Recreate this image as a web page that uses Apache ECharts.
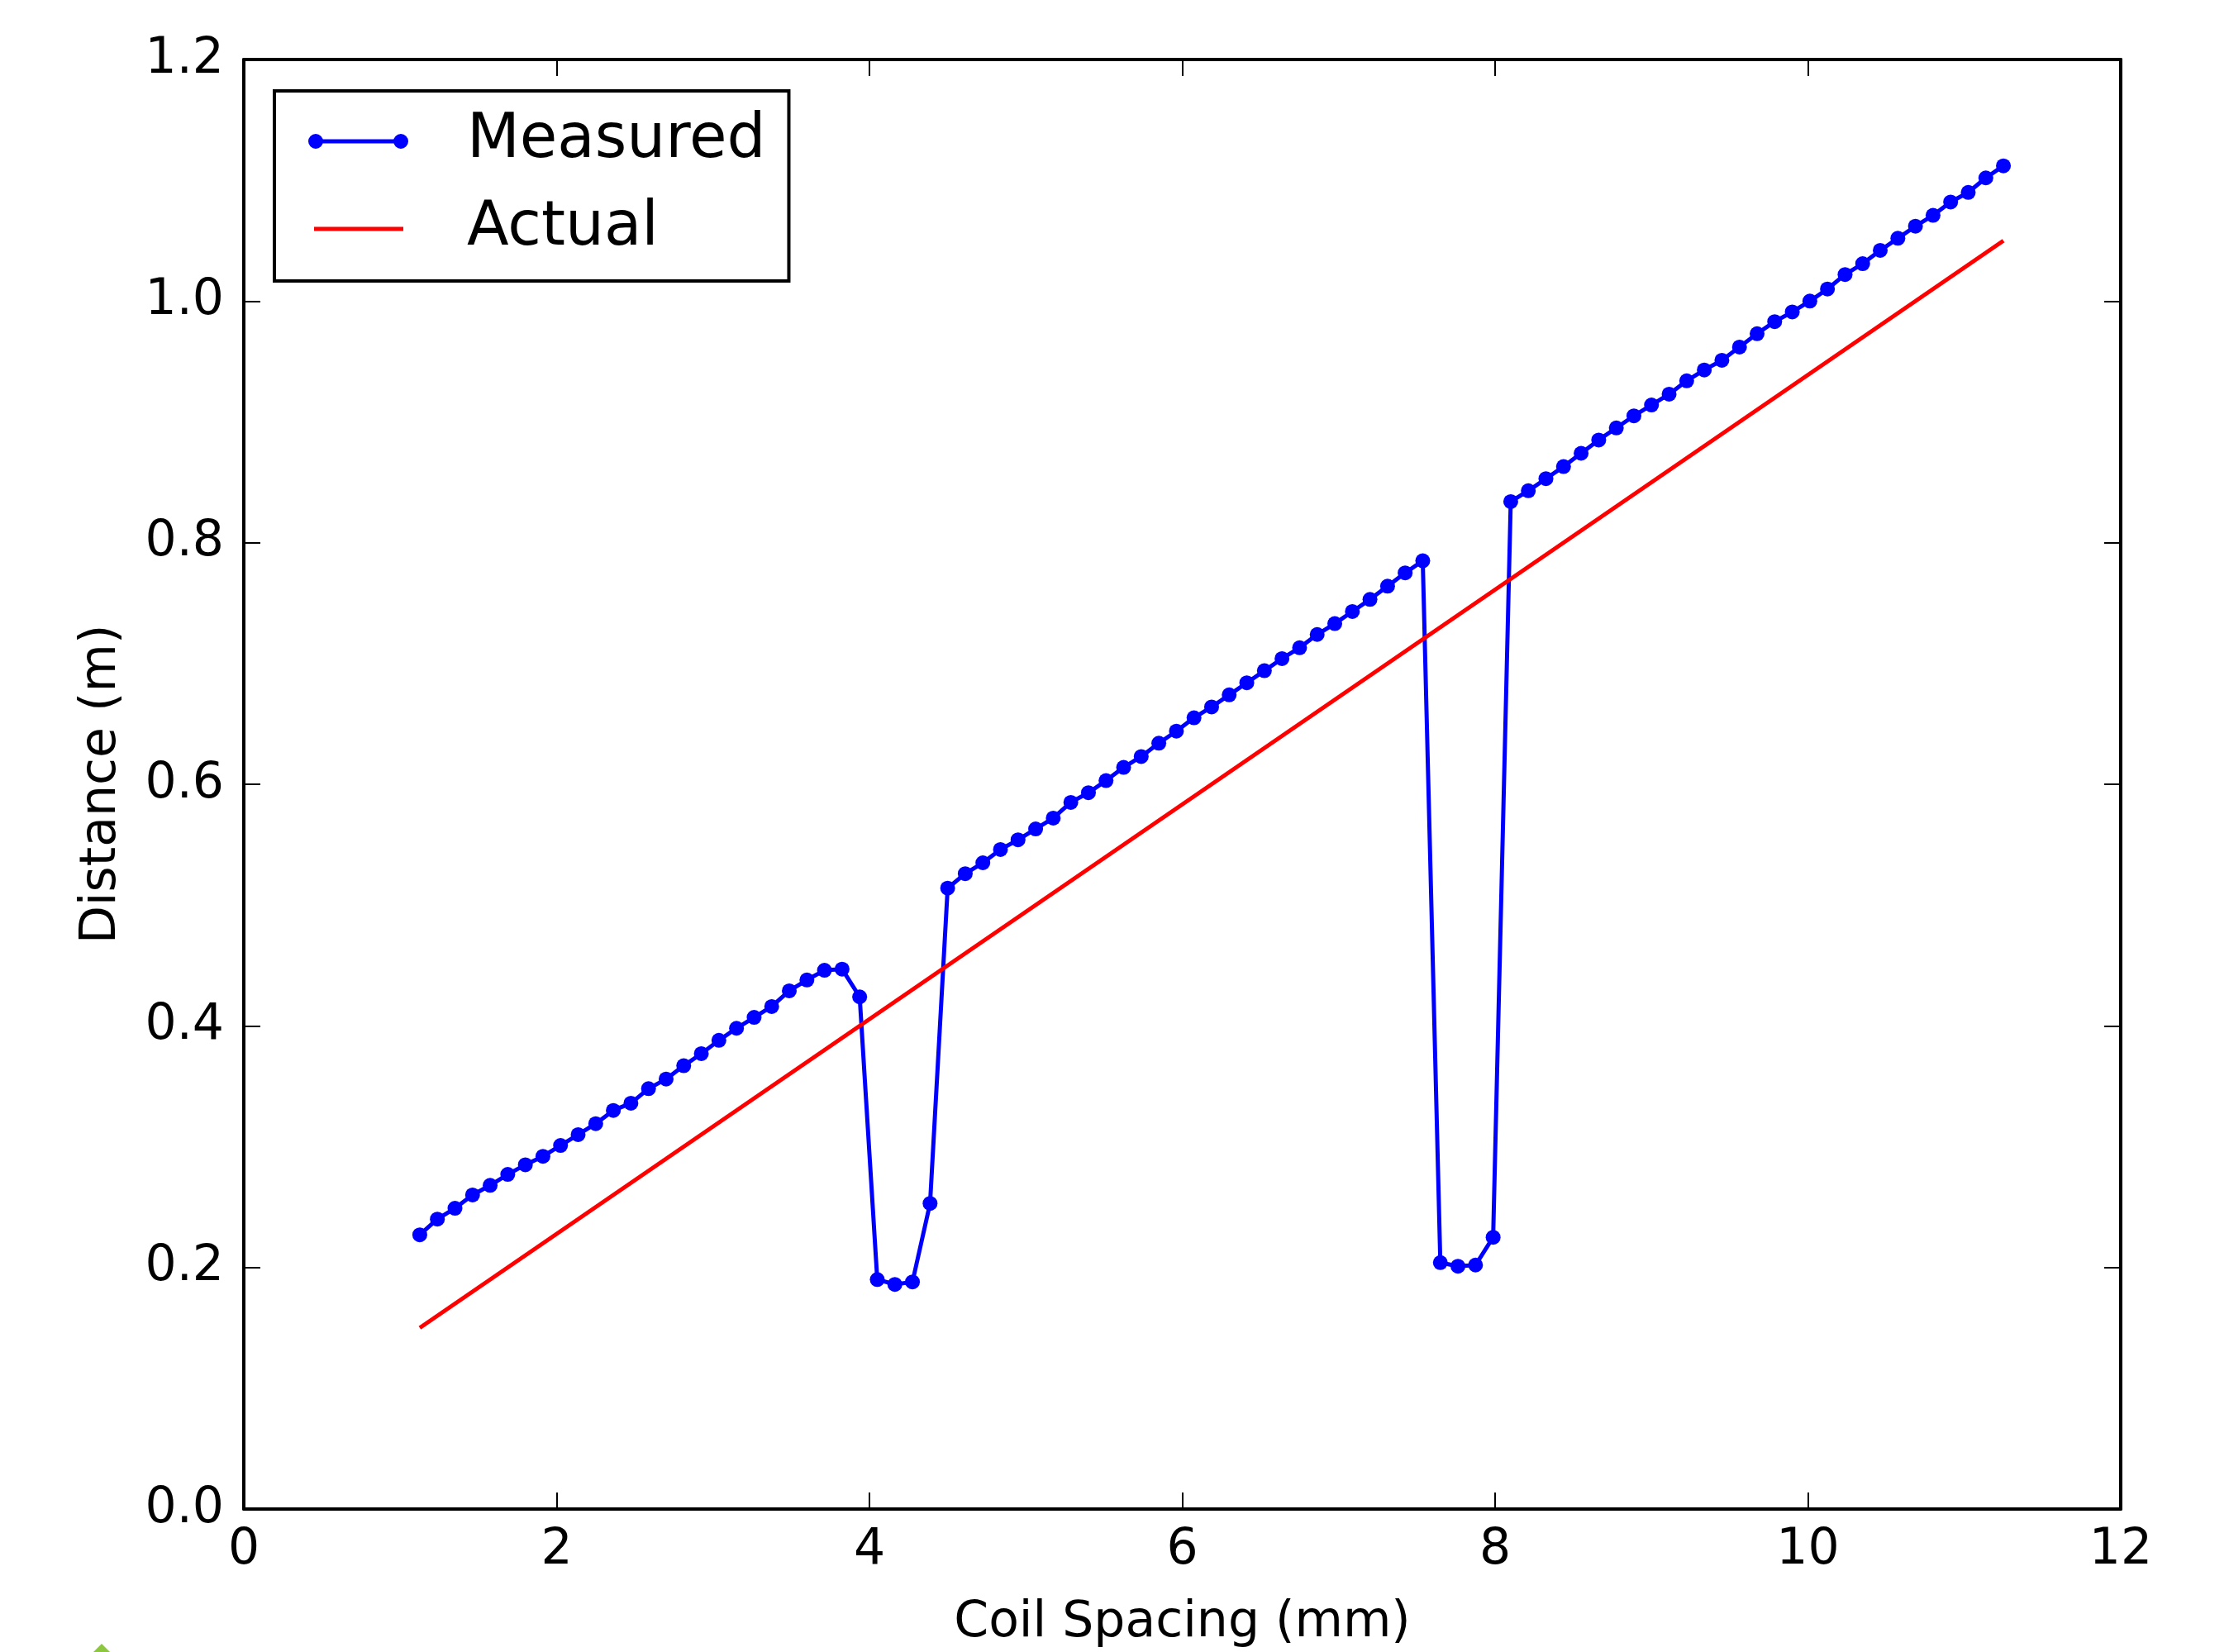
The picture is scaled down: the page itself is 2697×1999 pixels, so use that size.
<!DOCTYPE html>
<html>
<head>
<meta charset="utf-8">
<script src="https://cdn.jsdelivr.net/npm/echarts@6/dist/echarts.min.js"></script>
<style>
  html, body { margin: 0; padding: 0; background: #fff; }
  #chart { width: 2697px; height: 1999px; }
</style>
</head>
<body>
<div id="chart"></div>
<script>
// Coil spacing (mm) of each measurement
const coilSpacing = [
  1.125, 1.2375, 1.35, 1.4625, 1.575, 1.6875, 1.8, 1.9125, 2.025, 2.1375,
  2.25, 2.3625, 2.475, 2.5875, 2.7, 2.8125, 2.925, 3.0375, 3.15, 3.2625,
  3.375, 3.4875, 3.6, 3.7125, 3.825, 3.9375, 4.05, 4.1625, 4.275, 4.3875,
  4.5, 4.6125, 4.725, 4.8375, 4.95, 5.0625, 5.175, 5.2875, 5.4, 5.5125,
  5.625, 5.7375, 5.85, 5.9625, 6.075, 6.1875, 6.3, 6.4125, 6.525, 6.6375,
  6.75, 6.8625, 6.975, 7.0875, 7.2, 7.3125, 7.425, 7.5375, 7.65, 7.7625,
  7.875, 7.9875, 8.1, 8.2125, 8.325, 8.4375, 8.55, 8.6625, 8.775, 8.8875,
  9.0, 9.1125, 9.225, 9.3375, 9.45, 9.5625, 9.675, 9.7875, 9.9, 10.0125,
  10.125, 10.2375, 10.35, 10.4625, 10.575, 10.6875, 10.8, 10.9125, 11.025, 11.1375,
  11.25
];
// Measured distance (m)
const measured = [
  0.227, 0.240, 0.249, 0.260, 0.268, 0.277, 0.285, 0.292, 0.301, 0.310,
  0.319, 0.330, 0.336, 0.348, 0.356, 0.367, 0.377, 0.388, 0.398, 0.407,
  0.416, 0.429, 0.438, 0.446, 0.447, 0.424, 0.190, 0.186, 0.188, 0.253,
  0.514, 0.526, 0.535, 0.546, 0.554, 0.563, 0.572, 0.585, 0.593, 0.603,
  0.614, 0.623, 0.634, 0.644, 0.655, 0.664, 0.674, 0.684, 0.694, 0.704,
  0.713, 0.724, 0.733, 0.743, 0.753, 0.764, 0.775, 0.785, 0.204, 0.201,
  0.202, 0.225, 0.834, 0.843, 0.853, 0.863, 0.874, 0.885, 0.895, 0.905,
  0.914, 0.923, 0.934, 0.943, 0.951, 0.962, 0.973, 0.983, 0.991, 1.000,
  1.010, 1.022, 1.031, 1.042, 1.052, 1.062, 1.071, 1.082, 1.090, 1.102,
  1.112
];
// Actual distance (m): straight line end points
const actualX = [1.125, 11.25];
const actualY = [0.15, 1.05];

const seriesNames = ['Measured', 'Actual'];
const xTicks = { min: 0, max: 12, interval: 2 };
const yTicks = { min: 0, max: 1.2, interval: 0.2 };
const xTitle = 'Coil Spacing (mm)';
const yTitle = 'Distance (m)';

const FONT = 'DejaVu Sans';
const measuredPairs = coilSpacing.map((x, i) => [x, measured[i]]);
const actualPairs = actualX.map((x, i) => [x, actualY[i]]);

const axisLine = { show: true, onZero: false, lineStyle: { color: '#000', width: 4 } };
const axisTick = { show: true, inside: true, length: 20, lineStyle: { color: '#000', width: 2 } };

const chart = echarts.init(document.getElementById('chart'), null, { renderer: 'canvas' });
chart.setOption({
  animation: false,
  backgroundColor: '#fff',
  grid: { left: 295, top: 72, width: 2271, height: 1759, containLabel: false },
  legend: {
    orient: 'vertical',
    left: 332, top: 110,
    padding: [21, 28, 23, 41],
    itemGap: 26,
    itemWidth: 121, itemHeight: 18,
    borderColor: '#000', borderWidth: 4, borderRadius: 0,
    backgroundColor: '#fff',
    textStyle: { fontFamily: FONT, fontSize: 74, color: '#000', lineHeight: 80, padding: [0, 0, 0, 66] },
    data: [
      { name: seriesNames[0], icon: 'path://M0,9A9,9,0,1,1,18,9A9,9,0,1,1,0,9Z M103,9A9,9,0,1,1,121,9A9,9,0,1,1,103,9Z M17.6,6.5L103.4,6.5L103.4,11.5L17.6,11.5Z' },
      { name: seriesNames[1], icon: 'path://M0,0L0,0Z M121,18L121,18Z M7,6.5L115,6.5L115,11.5L7,11.5Z' }
    ]
  },
  graphic: [
    { type: 'polygon', silent: true, shape: { points: [[113, 1999], [123, 1989], [133, 1999]] }, style: { fill: '#8dc63f' } }
  ],
  xAxis: [
    {
      type: 'value', position: 'bottom', min: xTicks.min, max: xTicks.max, interval: xTicks.interval,
      axisLine, axisTick, splitLine: { show: false },
      axisLabel: { fontFamily: FONT, fontSize: 60, color: '#000', margin: 20 },
      name: xTitle, nameLocation: 'middle', nameGap: 108,
      nameTextStyle: { fontFamily: FONT, fontSize: 60, color: '#000' }
    },
    {
      type: 'value', position: 'top', min: xTicks.min, max: xTicks.max, interval: xTicks.interval,
      axisLine, axisTick, splitLine: { show: false }, axisLabel: { show: false }
    }
  ],
  yAxis: [
    {
      type: 'value', position: 'left', min: yTicks.min, max: yTicks.max, interval: yTicks.interval,
      axisLine, axisTick, splitLine: { show: false },
      axisLabel: { fontFamily: FONT, fontSize: 60, color: '#000', margin: 24, formatter: v => v.toFixed(1) },
      name: yTitle, nameLocation: 'middle', nameGap: 142, nameRotate: 90,
      nameTextStyle: { fontFamily: FONT, fontSize: 60, color: '#000' }
    },
    {
      type: 'value', position: 'right', min: yTicks.min, max: yTicks.max, interval: yTicks.interval,
      axisLine, axisTick, splitLine: { show: false }, axisLabel: { show: false }
    }
  ],
  series: [
    {
      name: seriesNames[0], type: 'line', xAxisIndex: 0, yAxisIndex: 0,
      data: measuredPairs,
      symbol: 'circle', symbolSize: 18, showAllSymbol: true,
      lineStyle: { color: '#0000ff', width: 5 },
      itemStyle: { color: '#0000ff' },
      emphasis: { disabled: true }
    },
    {
      name: seriesNames[1], type: 'line', xAxisIndex: 0, yAxisIndex: 0,
      data: actualPairs,
      symbol: 'none',
      lineStyle: { color: '#ff0000', width: 5 },
      itemStyle: { color: '#ff0000' },
      emphasis: { disabled: true }
    }
  ]
});
</script>
</body>
</html>
